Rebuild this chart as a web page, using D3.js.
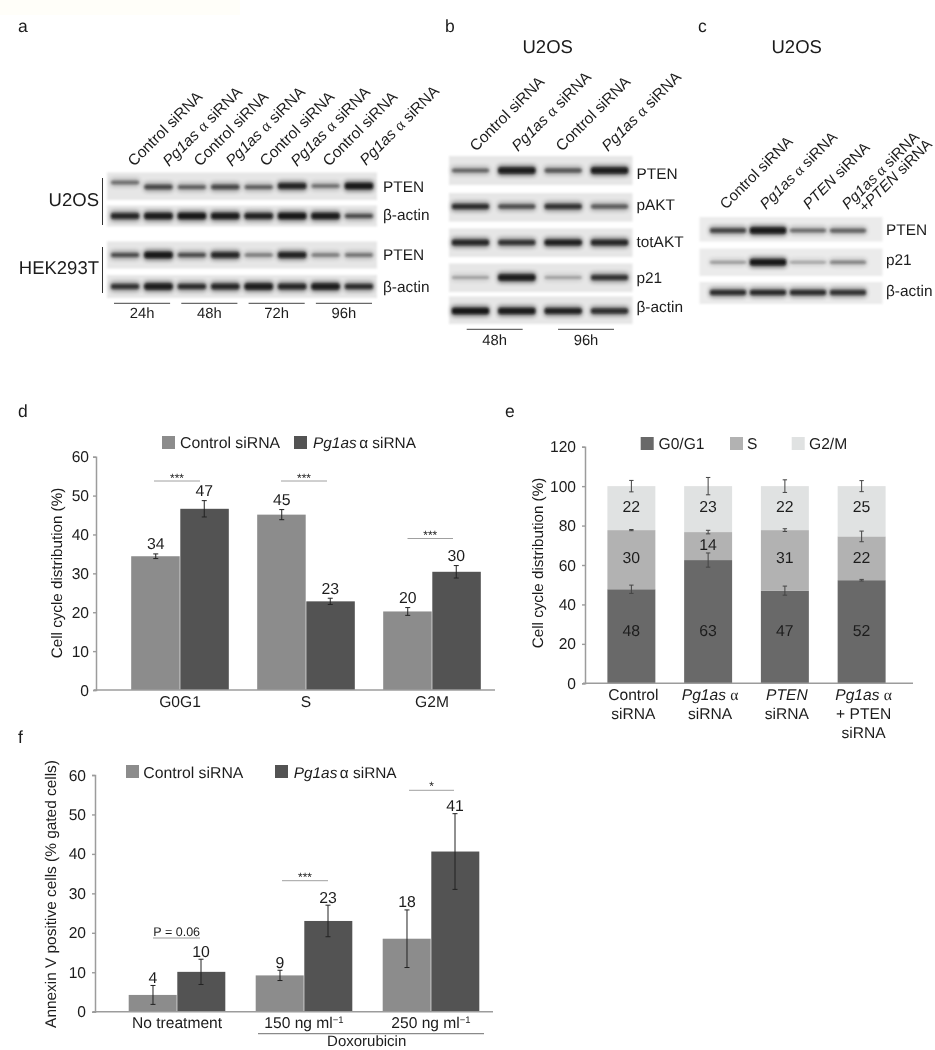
<!DOCTYPE html>
<html><head><meta charset="utf-8">
<script src="https://cdn.jsdelivr.net/npm/d3@7/dist/d3.min.js"></script>
<style>
html,body{margin:0;padding:0;background:#fff}
svg{display:block;opacity:.999}
text{font-family:"Liberation Sans",Arial,sans-serif;fill:#1c1c1c;white-space:pre;text-rendering:geometricPrecision}
</style></head><body><svg id="c" width="935" height="1050"></svg>
<script>
// ---------- DATA ----------
const cycleGroups = ['G0G1','S','G2M'];
const cycleControl = [34.4,45.1,20.2];
const cycleControlErr = [0.6,1.3,1.0];
const cycleControlLabels = ['34','45','20'];
const cyclePg = [46.6,22.8,30.4];
const cyclePgErr = [2.1,0.8,1.6];
const cyclePgLabels = ['47','23','30'];

const stackG0 = [47.7,62.5,47.0,52.3];
const stackS = [30.0,14.2,30.7,22.2];
const stackG2 = [22.3,23.3,22.3,25.5];
const stackG0Err = [2.1,3.6,2.3,0.4];
const stackSErr = [0.3,0.9,0.7,2.7];
const stackG2Err = [2.9,4.4,3.2,2.8];
const stackG0Labels = ['48','63','47','52'];
const stackSLabels = ['30','14','31','22'];
const stackG2Labels = ['22','23','22','25'];

const annexGroups = ['No treatment','150 ng ml','250 ng ml'];
const annexControl = [4.25,9.2,18.5];
const annexControlErr = [2.4,1.3,7.3];
const annexControlLabels = ['4','9','18'];
const annexPg = [10.1,23.0,40.6];
const annexPgErr = [3.2,4.0,9.6];
const annexPgLabels = ['10','23','41'];

const blotA = [
  {name:'PTEN',   v:[.42,.62,.5,.62,.5,.88,.42,.98]},
  {name:'β-actin',v:[.85,.95,1,.95,.9,1,.95,.6]},
  {name:'PTEN',   v:[.6,1,.6,.85,.38,.9,.38,.4]},
  {name:'β-actin',v:[.75,.95,.8,.85,.95,.85,.95,.8]}
];
const blotB = [
  {name:'PTEN',   v:[.48,.95,.55,.95]},
  {name:'pAKT',   v:[.8,.6,.75,.52]},
  {name:'totAKT', v:[.85,.75,.92,.85]},
  {name:'p21',    v:[.22,.95,.22,.75]},
  {name:'β-actin',v:[1,.95,.9,.8]}
];
const blotC = [
  {name:'PTEN',   v:[.65,.98,.45,.5]},
  {name:'p21',    v:[.25,1,.2,.35]},
  {name:'β-actin',v:[.8,.82,.8,.75]}
];
const timesA = ['24h','48h','72h','96h'];
const timesB = ['48h','96h'];

const ctrl = [{t:'Control siRNA'}];
const pgSerif = [{t:'Pg1as',i:1},{t:' '},{t:'α',f:'Liberation Serif'},{t:' siRNA'}];
const pgSans = [{t:'Pg1as',i:1},{t:'α',dx:2.5},{t:' siRNA'}];
const ptenSi = [{t:'PTEN',i:1},{t:' siRNA'}];
const pgLine = [{t:'Pg1as',i:1},{t:' '},{t:'α',f:'Liberation Serif'}];

// ---------- HELPERS ----------
const svg = d3.select('#c');
const defs = svg.append('defs');
[['b1',1],['b2',2.2],['bg',1.2]].forEach(([id,s])=>defs.append('filter').attr('id',id)
  .attr('x','-20%').attr('y','-100%').attr('width','140%').attr('height','300%')
  .append('feGaussianBlur').attr('stdDeviation',s));

function txt(x,y,segs,size,o={}){
  const t = svg.append('text').attr('font-size',size).attr('text-anchor',o.anchor||'start');
  if(o.rot!==undefined) t.attr('transform',`translate(${x},${y}) rotate(${o.rot})`);
  else t.attr('x',x).attr('y',y);
  (typeof segs==='string'?[{t:segs}]:segs).forEach(s=>{
    const sp=t.append('tspan').text(s.t);
    if(s.i) sp.attr('font-style','italic');
    if(s.f) sp.attr('font-family',s.f);
    if(s.dx) sp.attr('dx',s.dx);
  });
  return t;
}
function hline(x1,x2,y,c,w){svg.append('line').attr('x1',x1).attr('x2',x2).attr('y1',y).attr('y2',y).attr('stroke',c).attr('stroke-width',w);}

function blot(rows,opt){
  const lanes = d3.scaleBand().domain(d3.range(rows[0].v.length)).range(opt.range).paddingInner(opt.gap).paddingOuter(0);
  const thick = d3.scaleLinear().domain([0,1]).range([1.5,6]);
  rows.forEach((r,k)=>{
    const [y0,y1,yb,yl]=opt.geom[k];
    const sh=(i)=>(opt.shift&&opt.shift[k])?opt.shift[k][i]:0;
    svg.append('rect').attr('x',opt.x0).attr('width',opt.x1-opt.x0).attr('y',y0).attr('height',y1-y0).attr('fill',opt.bg).attr('filter','url(#bg)');
    const g=svg.append('g');
    g.selectAll('rect.h').data(r.v).join('rect').attr('x',(d,i)=>lanes(i)).attr('width',lanes.bandwidth())
      .attr('y',(d,i)=>yb+sh(i)-thick(d)/2-2.5).attr('height',d=>thick(d)+5).attr('rx',4).attr('fill','#000').attr('opacity',d=>d*.5).attr('filter','url(#b2)');
    g.selectAll('rect.c').data(r.v).join('rect').attr('x',(d,i)=>lanes(i)+1).attr('width',lanes.bandwidth()-2)
      .attr('y',(d,i)=>yb+sh(i)-thick(d)/2).attr('height',d=>thick(d)).attr('rx',2).attr('fill','#0a0a0a').attr('opacity',d=>.1+d*.78).attr('filter','url(#b1)');
    txt(opt.labelX,yl,r.name,15.4);
  });
}
function rotLabels(list,size=15.5){list.forEach(([x,y,s])=>txt(x,y,s,size,{rot:-45}));}
function panelLetter(x,y,s){txt(x,y,s,17.5);}

function groupedChart(o){
  const y=d3.scaleLinear().domain([0,60]).range([o.y0,o.y60]);
  const x=d3.scaleBand().domain(o.groups).range(o.xr).paddingInner(o.pad).paddingOuter(o.pad/2);
  const x1=d3.scaleBand().domain([0,1]).range([0,x.bandwidth()]);
  const series=[[o.c,o.cErr,o.cLab,'#8c8c8c'],[o.p,o.pErr,o.pLab,'#535353']];
  series.forEach(([vals,errs,labs,col],s)=>{
    svg.append('g').selectAll('rect').data(vals).join('rect')
      .attr('x',(d,i)=>x(o.groups[i])+x1(s)+(s==0?-.3:.3)).attr('width',x1.bandwidth())
      .attr('y',d=>y(d)).attr('height',d=>y(0)-y(d)).attr('fill',col);
  });
  series.forEach(([vals,errs,labs],s)=>{
    vals.forEach((v,i)=>{
      const cx=x(o.groups[i])+x1(s)+x1.bandwidth()/2;
      const top=y(v+errs[i]),bot=y(v-errs[i]);
      const p=d3.path();p.moveTo(cx,top);p.lineTo(cx,bot);p.moveTo(cx-2.5,top);p.lineTo(cx+2.5,top);p.moveTo(cx-2.5,bot);p.lineTo(cx+2.5,bot);
      svg.append('path').attr('d',p.toString()).attr('stroke','#222').attr('stroke-width',1).attr('fill','none');
      txt(cx,top-o.labGap,labs[i],15.8,{anchor:'middle'});
    });
  });
  const yAxis=svg.append('g').attr('transform',`translate(${o.axisX},0)`).call(d3.axisLeft(y).ticks(6).tickSize(3).tickPadding(o.tickPad));
  const xAxis=svg.append('g').attr('transform',`translate(0,${o.y0})`).call(d3.axisBottom(x).tickSize(0).tickPadding(5.5));
  xAxis.select('.domain').remove(); 
  [yAxis,xAxis].forEach(a=>{a.selectAll('text').attr('font-size',15.6).attr('fill','#1c1c1c').attr('font-family','"Liberation Sans"');
    a.selectAll('line').attr('stroke','#9c9c9c').attr('stroke-width',1.4);a.select('.domain').attr('stroke','#9c9c9c').attr('stroke-width',1.5);});
  hline(o.axisX-2,o.axisEnd,o.y0,'#9c9c9c',1.6);
  return {x,y,xAxis};
}

// ---------- PANEL a ----------
svg.append('rect').attr('width',240).attr('height',15).attr('fill','#fffef9');
panelLetter(18,32,'a');
blot(blotA,{range:[110,374],gap:.1,x0:107,x1:377,bg:'#e6e6e6',labelX:383,shift:{0:[-3.5,1,1,1,1,0,0,0]},
  geom:[[172.5,200,186,191.5],[205.5,226.5,216,220],[241.5,268.5,255,260],[275,298,286.5,291.7]]});
rotLabels([[134,167,ctrl],[169,167,pgSerif],[200,167,ctrl],[232,167,pgSerif],[266,167,ctrl],[297,167,pgSerif],[329,167,ctrl],[366,166,pgSerif]]);
txt(99,205.5,'U2OS',18.5,{anchor:'end'});
txt(99,274,'HEK293T',18.5,{anchor:'end'});
[[178,225],[247,293]].forEach(([a,b])=>svg.append('line').attr('x1',102.5).attr('x2',102.5).attr('y1',a).attr('y2',b).attr('stroke','#333').attr('stroke-width',1));
const tlA=d3.scaleBand().domain(timesA).range([114,372]).paddingInner(.166);
timesA.forEach(t=>{hline(tlA(t),tlA(t)+tlA.bandwidth(),303.3,'#444',1);txt(tlA(t)+tlA.bandwidth()/2,318,t,14.8,{anchor:'middle'});});

// ---------- PANEL b ----------
panelLetter(445,32,'b');
txt(547.7,53,'U2OS',18.5,{anchor:'middle'});
blot(blotB,{range:[451,629],gap:.16,x0:449,x1:632.5,bg:'#e6e6e6',labelX:636.5,
  geom:[[156,185,170.5,179.3],[193,221.5,206.5,210],[228.5,257,242.5,247],[263.5,292,277.5,282.7],[296.5,324,311,311.7]]});
rotLabels([[476,152,ctrl],[518,152,pgSerif],[562,152,ctrl],[608,152,pgSerif]]);
const tlB=d3.scaleBand().domain(timesB).range([466.7,614]).paddingInner(.387);
timesB.forEach(t=>{hline(tlB(t),tlB(t)+tlB.bandwidth(),329.3,'#444',1);txt(tlB(t)+tlB.bandwidth()/2,345,t,14.8,{anchor:'middle'});});

// ---------- PANEL c ----------
panelLetter(698,32,'c');
txt(796.7,53,'U2OS',18.5,{anchor:'middle'});
blot(blotC,{range:[709,867],gap:.05,x0:699.5,x1:882.5,bg:'#ebebeb',labelX:886,
  geom:[[217,241.5,230.5,235],[248.5,276,262.3,265],[282,304,292.5,296]]});
rotLabels([[726,210,ctrl],[766,210,pgSerif],[809,210,ptenSi],[848,210,pgSerif],[865,213,[{t:'+'},{t:'PTEN',i:1},{t:' siRNA'}]]],15.1);

// ---------- PANEL d ----------
panelLetter(18,417,'d');
groupedChart({groups:cycleGroups,c:cycleControl,p:cyclePg,cErr:cycleControlErr,pErr:cyclePgErr,cLab:cycleControlLabels,pLab:cyclePgLabels,
  y0:690,y60:456.7,xr:[117,495],pad:.23,axisX:96,axisEnd:495,tickPad:4,labGap:4.5});
txt(62,573,'Cell cycle distribution (%)',15.2,{rot:-90,anchor:'middle'});
[[162,ctrl,'#8c8c8c',180,15.8],[294,pgSans,'#535353',313,15.4]].forEach(([sx,s,col,tx,fs])=>{
  svg.append('rect').attr('x',sx).attr('y',436).attr('width',13).attr('height',13).attr('fill',col);
  txt(tx,448,s,fs);
});
[[154,200,481],[281,327,481],[407.5,453,538.5]].forEach(([a,b,y])=>{
  hline(a,b,y,'#a0a0a0',1);
  txt((a+b)/2,y+.5,'***',12,{anchor:'middle'});
});

// ---------- PANEL e ----------
panelLetter(505,417,'e');
(function(){
  const y=d3.scaleLinear().domain([0,120]).range([683.3,446.7]);
  const x=d3.scaleBand().domain(d3.range(4)).range([593,900]).paddingInner(.375).paddingOuter(.1875);
  const stackData=stackG0.map((g,i)=>({a:g,b:stackS[i],c:stackG2[i]}));
  const stacked=d3.stack().keys(['a','b','c'])(stackData);
  const cols=['#696969','#b2b2b2','#e0e2e2'];
  stacked.forEach((layer,k)=>{
    svg.append('g').selectAll('rect').data(layer).join('rect').attr('x',(d,i)=>x(i)).attr('width',x.bandwidth())
      .attr('y',d=>y(d[1])).attr('height',d=>y(d[0])-y(d[1])).attr('fill',cols[k]);
  });
  [stackG0Err,stackSErr,stackG2Err].forEach((errs,k)=>{
    stacked[k].forEach((d,i)=>{
      const cx=x(i)+x.bandwidth()/2,top=y(d[1]+errs[i]),bot=y(d[1]-errs[i]);
      const p=d3.path();p.moveTo(cx,top);p.lineTo(cx,bot);p.moveTo(cx-2.2,top);p.lineTo(cx+2.2,top);p.moveTo(cx-2.2,bot);p.lineTo(cx+2.2,bot);
      svg.append('path').attr('d',p.toString()).attr('stroke','#444').attr('stroke-width',1).attr('fill','none');
    });
  });
  const labY=[27,64,89.5];
  [stackG0Labels,stackSLabels,stackG2Labels].forEach((labs,k)=>labs.forEach((l,i)=>{
    const v=(k==1&&i==1)?70.6:labY[k];
    txt(x(i)+x.bandwidth()/2,y(v),l,15.8,{anchor:'middle'}).attr('dy','.35em');
  }));
  const ax=svg.append('g').attr('transform','translate(585,0)').call(d3.axisLeft(y).ticks(6).tickSize(3).tickPadding(6));
  ax.selectAll('text').attr('font-size',15.6).attr('fill','#1c1c1c').attr('font-family','"Liberation Sans"');
  ax.selectAll('line').attr('stroke','#9c9c9c').attr('stroke-width',1.4);ax.select('.domain').attr('stroke','#9c9c9c').attr('stroke-width',1.5);
  hline(583,913,683.3,'#9c9c9c',1.6);
  const xl=[[[{t:'Control'}],[{t:'siRNA'}]],[pgLine,[{t:'siRNA'}]],[[{t:'PTEN',i:1}],[{t:'siRNA'}]],[pgLine,[{t:'+ PTEN'}],[{t:'siRNA'}]]];
  xl.forEach((lines,i)=>lines.forEach((s,j)=>txt(x(i)+x.bandwidth()/2+2,700+j*19,s,15.6,{anchor:'middle'})));
  txt(543,563,'Cell cycle distribution (%)',15.2,{rot:-90,anchor:'middle'});
  [[640.7,658.5,'G0/G1',cols[0]],[730,747,'S',cols[1]],[791.7,809,'G2/M',cols[2]]].forEach(([sx,tx,s,c])=>{
    svg.append('rect').attr('x',sx).attr('y',437).attr('width',13).attr('height',13).attr('fill',c);
    txt(tx,449,s,15.6);
  });
})();

// ---------- PANEL f ----------
panelLetter(18,743,'f');
const fChart=groupedChart({groups:annexGroups,c:annexControl,p:annexPg,cErr:annexControlErr,pErr:annexPgErr,cLab:annexControlLabels,pLab:annexPgLabels,
  y0:1011.7,y60:775,xr:[113.5,494.5],pad:.244,axisX:95,axisEnd:493,tickPad:6,labGap:2.5});
fChart.xAxis.selectAll('.tick text').each(function(d){ if(d!=='No treatment'){ d3.select(this).append('tspan').attr('font-size',9.5).attr('dy',-5.5).text('−1'); } });
txt(56,894,'Annexin V positive cells (% gated cells)',15.4,{rot:-90,anchor:'middle'});
[[126,143.3,ctrl,'#8c8c8c',15.8],[275,293.7,pgSans,'#535353',15.4]].forEach(([sx,tx,s,c,fs])=>{
  svg.append('rect').attr('x',sx).attr('y',765).attr('width',13).attr('height',13).attr('fill',c);
  txt(tx,777.7,s,fs);
});
hline(153,200,938,'#999',1);
txt(176.7,936,'P = 0.06',12.5,{anchor:'middle'});
hline(282,328,880.7,'#a0a0a0',1); txt(305,881,'***',12,{anchor:'middle'});
hline(409,454,790.3,'#a0a0a0',1); txt(431.5,790,'*',12,{anchor:'middle'});
hline(258,484,1033.7,'#8a8a8a',1.2);
txt(366.7,1046.3,'Doxorubicin',15,{anchor:'middle'});
</script></body></html>
